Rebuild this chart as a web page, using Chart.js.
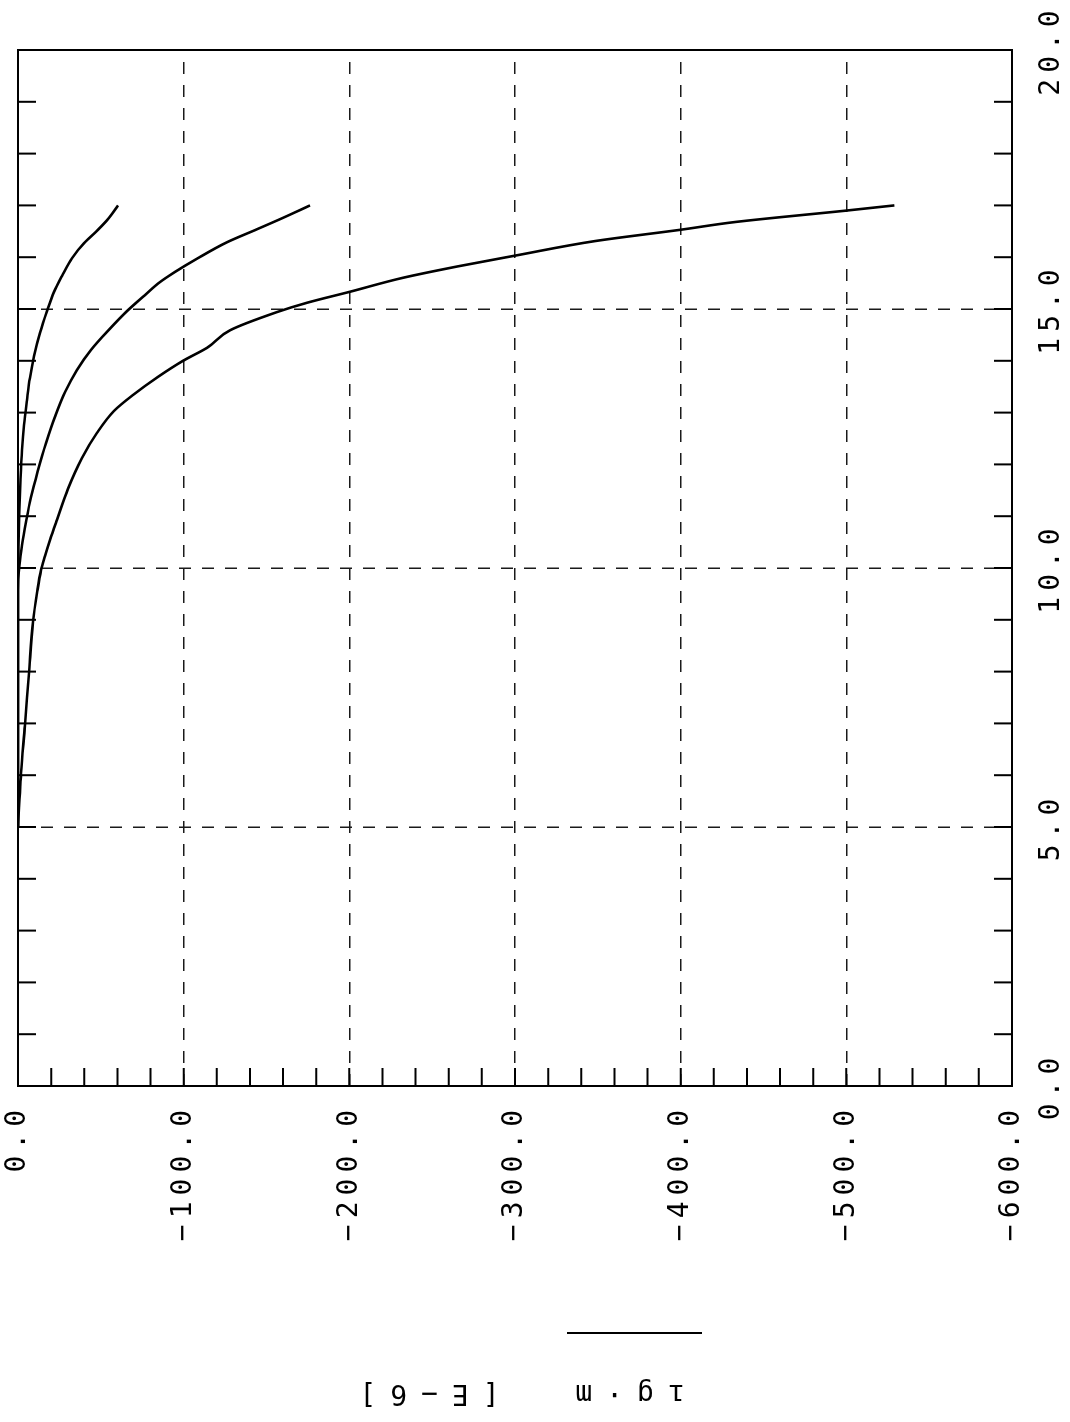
<!DOCTYPE html>
<html>
<head>
<meta charset="utf-8">
<script src="https://cdn.jsdelivr.net/npm/chart.js@4.4.1/dist/chart.umd.min.js"></script>
<style>
  html, body { margin: 0; padding: 0; background: #fff; }
  body { width: 1070px; height: 1422px; overflow: hidden; position: relative; }
  /* the plot is laid out landscape and turned a quarter turn anticlockwise */
  #sheet {
    position: absolute; left: 0; top: 0;
    width: 1422px; height: 1070px;
    transform-origin: 0 0;
    transform: translateY(1422px) rotate(-90deg);
  }
  #plot { display: block; }
</style>
</head>
<body>
<div id="sheet"><canvas id="plot" width="1422" height="1070"></canvas></div>
<script>
// three runs: distance and value [E-6]
const distInner = [5.0, 9.86, 10.41, 11.06, 11.70, 12.28, 12.76, 13.24, 13.67, 14.09, 14.54, 14.96, 15.33, 15.64, 15.98, 16.27, 16.53, 16.76, 17.0];
const valInner  = [0, 0, -0.3, -0.8, -1.5, -2.4, -3.6, -5.4, -7.2, -9.7, -13.3, -17.5, -21.7, -26.6, -32.6, -39.8, -48.3, -55.0, -60.4];

const distMid = [5.0, 9.58, 10.06, 10.44, 10.89, 11.37, 11.89, 12.41, 12.92, 13.40, 13.82, 14.21, 14.58, 14.96, 15.27, 15.52, 15.71, 15.97, 16.29, 16.54, 16.76, 17.0];
const valMid  = [0, 0, -0.9, -2.4, -4.8, -7.8, -12.1, -16.9, -22.3, -28.4, -35.6, -44.1, -54.3, -65.8, -76.7, -85.7, -94.5, -108.0, -126.2, -144.3, -160.0, -176.3];

const distOuter = [5.0, 5.46, 6.04, 6.97, 7.97, 8.96, 9.52, 9.96, 10.23, 10.54, 10.93, 11.53, 12.12, 12.61, 13.03, 13.34, 13.69, 14.00, 14.25,
                   14.59, 14.94, 15.12, 15.33, 15.60, 15.82, 16.03, 16.31, 16.53, 16.68, 16.90, 17.0];
const valOuter  = [0, -0.8, -1.8, -4.2, -6.6, -9.1, -11.5, -13.9, -16.3, -19.3, -23.5, -30.2, -38.6, -47.7, -57.9, -69.4, -84.5, -99.6, -114.1,
                   -128.0, -156.3, -174.4, -200.0, -232.0, -265.0, -300.0, -348.0, -400.0, -433.0, -500.0, -529.0];

// small inward tick marks on the frame
const distTicks  = [1, 2, 3, 4, 5, 6, 7, 8, 9, 10, 11, 12, 13, 14, 15, 16, 17, 18, 19];
const valueTicks = [-20, -40, -60, -80, -100, -120, -140, -160, -180, -200, -220, -240, -260, -280, -300,
                    -320, -340, -360, -380, -400, -420, -440, -460, -480, -500, -520, -540, -560, -580];

const yTitle = 'ıg·m  [E\u22126]';
const MONO = 'DejaVu Sans Mono';

function toPoints(xs, ys) {
  return xs.map((x, i) => ({ x: x, y: ys[i] }));
}

function curve(xs, ys) {
  return {
    data: toPoints(xs, ys),
    showLine: true,
    borderColor: '#000',
    borderWidth: 2.6,
    pointRadius: 0,
    fill: false,
    cubicInterpolationMode: 'monotone'
  };
}

// one decimal, with a real minus sign
const fmt = v => v.toFixed(1).replace('-', '\u2212');

const frame = {
  id: 'frame',
  beforeLayout(chart) { chart.ctx.letterSpacing = '6px'; },
  beforeDraw(chart) { chart.ctx.letterSpacing = '6px'; },
  afterDraw(chart) {
    const { ctx, chartArea: a, scales } = chart;
    ctx.save();
    ctx.letterSpacing = '0px';
    ctx.setLineDash([]);
    ctx.strokeStyle = '#000';
    ctx.lineWidth = 2;
    ctx.strokeRect(a.left, a.top, a.right - a.left, a.bottom - a.top);

    ctx.beginPath();
    distTicks.forEach(d => {
      const px = scales.x.getPixelForValue(d);
      ctx.moveTo(px, a.top);
      ctx.lineTo(px, a.top + 18);
      ctx.moveTo(px, a.bottom);
      ctx.lineTo(px, a.bottom - 18);
    });
    valueTicks.forEach(v => {
      const py = scales.y.getPixelForValue(v);
      ctx.moveTo(a.left, py);
      ctx.lineTo(a.left + 18, py);
    });
    ctx.stroke();

    // axis caption with its rule, reading upward
    const cy = (a.top + a.bottom) / 2;
    ctx.translate(a.left - 299, cy);
    ctx.rotate(-Math.PI / 2);
    ctx.fillStyle = '#000';
    ctx.font = '28px "' + MONO + '"';
    ctx.letterSpacing = '14px';
    ctx.textAlign = 'center';
    ctx.textBaseline = 'alphabetic';
    ctx.fillText(yTitle, 0, 0);
    ctx.lineWidth = 2;
    ctx.beginPath();
    ctx.moveTo(-187, 52);
    ctx.lineTo(-52, 52);
    ctx.stroke();
    ctx.restore();
  }
};

const gridColor = (edgeA, edgeB) => (c) =>
  (c.tick && (c.tick.value === edgeA || c.tick.value === edgeB)) ? 'rgba(0,0,0,0)' : '#1a1a1a';

new Chart(document.getElementById('plot'), {
  type: 'scatter',
  data: {
    datasets: [
      curve(distInner, valInner),
      curve(distMid, valMid),
      curve(distOuter, valOuter)
    ]
  },
  options: {
    responsive: false,
    animation: false,
    devicePixelRatio: 1,
    layout: { padding: { left: 0, right: 50, top: 18, bottom: 0 } },
    plugins: {
      legend: { display: false },
      tooltip: { enabled: false }
    },
    scales: {
      x: {
        type: 'linear',
        position: 'bottom',
        min: 0,
        max: 20,
        afterFit(scale) {
          scale.height = 58;
          scale.paddingLeft = 0;
          scale.paddingRight = 0;
        },
        ticks: {
          stepSize: 5,
          maxRotation: 0,
          padding: 23,
          color: '#000',
          font: { family: MONO, size: 28 },
          callback: fmt
        },
        grid: {
          drawTicks: false,
          lineWidth: 1.5,
          color: gridColor(0, 20)
        },
        border: { display: false, dash: [12, 11] }
      },
      y: {
        type: 'linear',
        position: 'left',
        min: -600,
        max: 0,
        afterFit(scale) {
          scale.width = 336;
          scale.paddingTop = 0;
          scale.paddingBottom = 0;
        },
        ticks: {
          stepSize: 100,
          padding: 18,
          color: '#000',
          font: { family: MONO, size: 28 },
          callback: fmt
        },
        grid: {
          drawTicks: false,
          lineWidth: 1.5,
          color: gridColor(-600, 0)
        },
        border: { display: false, dash: [12, 11] }
      }
    }
  },
  plugins: [frame]
});
</script>
</body>
</html>
